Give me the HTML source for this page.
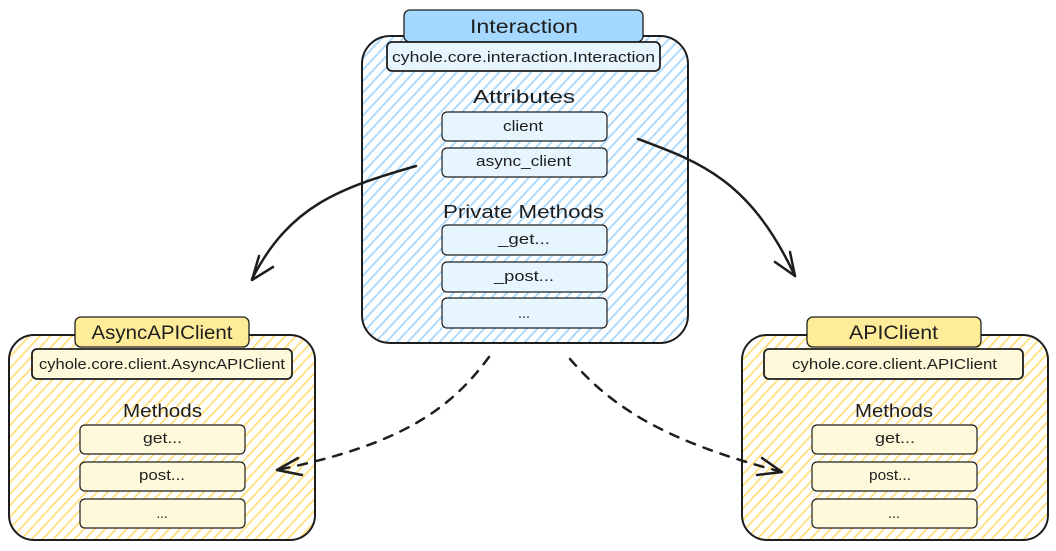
<!DOCTYPE html>
<html><head><meta charset="utf-8">
<style>
html,body{margin:0;padding:0;background:#fff;}
svg{display:block;}
text{font-family:"Liberation Sans",sans-serif;fill:#1e1e1e;}
</style></head>
<body>
<svg width="1056" height="551" viewBox="0 0 1056 551" xmlns="http://www.w3.org/2000/svg">
<defs>
  <pattern id="hb" patternUnits="userSpaceOnUse" width="7.8" height="7.8" patternTransform="rotate(43)">
    <line x1="1" y1="0" x2="1" y2="7.8" stroke="#a5d8ff" stroke-width="1.8"/>
  </pattern>
  <pattern id="hy" patternUnits="userSpaceOnUse" width="7.8" height="7.8" patternTransform="rotate(43)">
    <line x1="1" y1="0" x2="1" y2="7.8" stroke="#ffe07a" stroke-width="1.8"/>
  </pattern>
</defs>
<rect width="1056" height="551" fill="#fff"/>

<!-- Interaction -->
<rect x="362" y="36" width="326" height="307" rx="28" fill="url(#hb)" stroke="#1e1e1e" stroke-width="2"/>
<rect x="404" y="10" width="239" height="32" rx="6" fill="#a5d8ff" stroke="#1e1e1e" stroke-width="1.3"/>
<text x="524" y="33" font-size="19" text-anchor="middle" textLength="108" lengthAdjust="spacingAndGlyphs">Interaction</text>
<rect x="387" y="42" width="273" height="29" rx="5" fill="#e7f5ff" stroke="#1e1e1e" stroke-width="1.8"/>
<text x="523.5" y="62" font-size="15" text-anchor="middle" textLength="263" lengthAdjust="spacingAndGlyphs">cyhole.core.interaction.Interaction</text>
<text x="524" y="103" font-size="18" text-anchor="middle" textLength="102" lengthAdjust="spacingAndGlyphs">Attributes</text>
<rect x="442" y="112" width="165" height="29" rx="5" fill="#e7f5ff" stroke="#1e1e1e" stroke-width="1.2"/>
<text x="523" y="131" font-size="15" text-anchor="middle" textLength="40" lengthAdjust="spacingAndGlyphs">client</text>
<rect x="442" y="148" width="165" height="29" rx="5" fill="#e7f5ff" stroke="#1e1e1e" stroke-width="1.2"/>
<text x="523.5" y="166" font-size="15" text-anchor="middle" textLength="95" lengthAdjust="spacingAndGlyphs">async_client</text>
<text x="523.5" y="218" font-size="18" text-anchor="middle" textLength="161" lengthAdjust="spacingAndGlyphs">Private Methods</text>
<rect x="442" y="225" width="165" height="30" rx="5" fill="#e7f5ff" stroke="#1e1e1e" stroke-width="1.2"/>
<text x="524" y="244" font-size="15" text-anchor="middle" textLength="52" lengthAdjust="spacingAndGlyphs">_get...</text>
<rect x="442" y="262" width="165" height="30" rx="5" fill="#e7f5ff" stroke="#1e1e1e" stroke-width="1.2"/>
<text x="524" y="281" font-size="15" text-anchor="middle" textLength="60" lengthAdjust="spacingAndGlyphs">_post...</text>
<rect x="442" y="298" width="165" height="30" rx="5" fill="#e7f5ff" stroke="#1e1e1e" stroke-width="1.2"/>
<text x="524" y="318" font-size="15" text-anchor="middle" textLength="12" lengthAdjust="spacingAndGlyphs">...</text>

<!-- AsyncAPIClient -->
<rect x="9" y="335" width="306" height="205" rx="25" fill="url(#hy)" stroke="#1e1e1e" stroke-width="2"/>
<rect x="75" y="317" width="174" height="30" rx="6" fill="#ffec99" stroke="#1e1e1e" stroke-width="1.3"/>
<text x="162" y="339" font-size="19" text-anchor="middle" textLength="141" lengthAdjust="spacingAndGlyphs">AsyncAPIClient</text>
<rect x="32" y="349" width="260" height="30" rx="5" fill="#fff9db" stroke="#1e1e1e" stroke-width="1.8"/>
<text x="162" y="369" font-size="15" text-anchor="middle" textLength="246" lengthAdjust="spacingAndGlyphs">cyhole.core.client.AsyncAPIClient</text>
<text x="162.5" y="417" font-size="18" text-anchor="middle" textLength="79" lengthAdjust="spacingAndGlyphs">Methods</text>
<rect x="80" y="425" width="165" height="29" rx="5" fill="#fff9db" stroke="#1e1e1e" stroke-width="1.2"/>
<text x="162.5" y="443" font-size="15" text-anchor="middle" textLength="39" lengthAdjust="spacingAndGlyphs">get...</text>
<rect x="80" y="462" width="165" height="29" rx="5" fill="#fff9db" stroke="#1e1e1e" stroke-width="1.2"/>
<text x="162" y="480" font-size="15" text-anchor="middle" textLength="46" lengthAdjust="spacingAndGlyphs">post...</text>
<rect x="80" y="499" width="165" height="29" rx="5" fill="#fff9db" stroke="#1e1e1e" stroke-width="1.2"/>
<text x="162" y="518" font-size="15" text-anchor="middle" textLength="11" lengthAdjust="spacingAndGlyphs">...</text>

<!-- APIClient -->
<rect x="742" y="335" width="306" height="205" rx="25" fill="url(#hy)" stroke="#1e1e1e" stroke-width="2"/>
<rect x="807" y="317" width="174" height="30" rx="6" fill="#ffec99" stroke="#1e1e1e" stroke-width="1.3"/>
<text x="893.5" y="339" font-size="19" text-anchor="middle" textLength="89" lengthAdjust="spacingAndGlyphs">APIClient</text>
<rect x="764" y="349" width="259" height="30" rx="5" fill="#fff9db" stroke="#1e1e1e" stroke-width="1.8"/>
<text x="894.5" y="369" font-size="15" text-anchor="middle" textLength="205" lengthAdjust="spacingAndGlyphs">cyhole.core.client.APIClient</text>
<text x="894" y="417" font-size="18" text-anchor="middle" textLength="78" lengthAdjust="spacingAndGlyphs">Methods</text>
<rect x="812" y="425" width="165" height="29" rx="5" fill="#fff9db" stroke="#1e1e1e" stroke-width="1.2"/>
<text x="895" y="443" font-size="15" text-anchor="middle" textLength="40" lengthAdjust="spacingAndGlyphs">get...</text>
<rect x="812" y="462" width="165" height="29" rx="5" fill="#fff9db" stroke="#1e1e1e" stroke-width="1.2"/>
<text x="890" y="480" font-size="15" text-anchor="middle" textLength="42" lengthAdjust="spacingAndGlyphs">post...</text>
<rect x="812" y="499" width="165" height="29" rx="5" fill="#fff9db" stroke="#1e1e1e" stroke-width="1.2"/>
<text x="894" y="518" font-size="15" text-anchor="middle" textLength="12" lengthAdjust="spacingAndGlyphs">...</text>

<!-- solid arrows -->
<g fill="none" stroke="#1e1e1e" stroke-width="2.5" stroke-linecap="round" stroke-linejoin="round">
  <path d="M416 166 C 340 188 290 205 252 279"/>
  <path d="M259 256 L252 280 L273 267"/>
  <path d="M638 139 C 700 162 750 180 795 276"/>
  <path d="M790 252 L795 276 L775 262"/>
</g>
<!-- dashed arrows -->
<g fill="none" stroke="#1e1e1e" stroke-width="2.5" stroke-linecap="round" stroke-linejoin="round">
  <path d="M489 357 C 450 410 400 445 277 470" stroke-dasharray="9 9"/>
  <path d="M298 458 L277 470 L302 475"/>
  <path d="M570 359 C 610 405 660 440 782 472" stroke-dasharray="9 9"/>
  <path d="M762 458 L782 472 L757 475"/>
</g>
</svg>
</body></html>
